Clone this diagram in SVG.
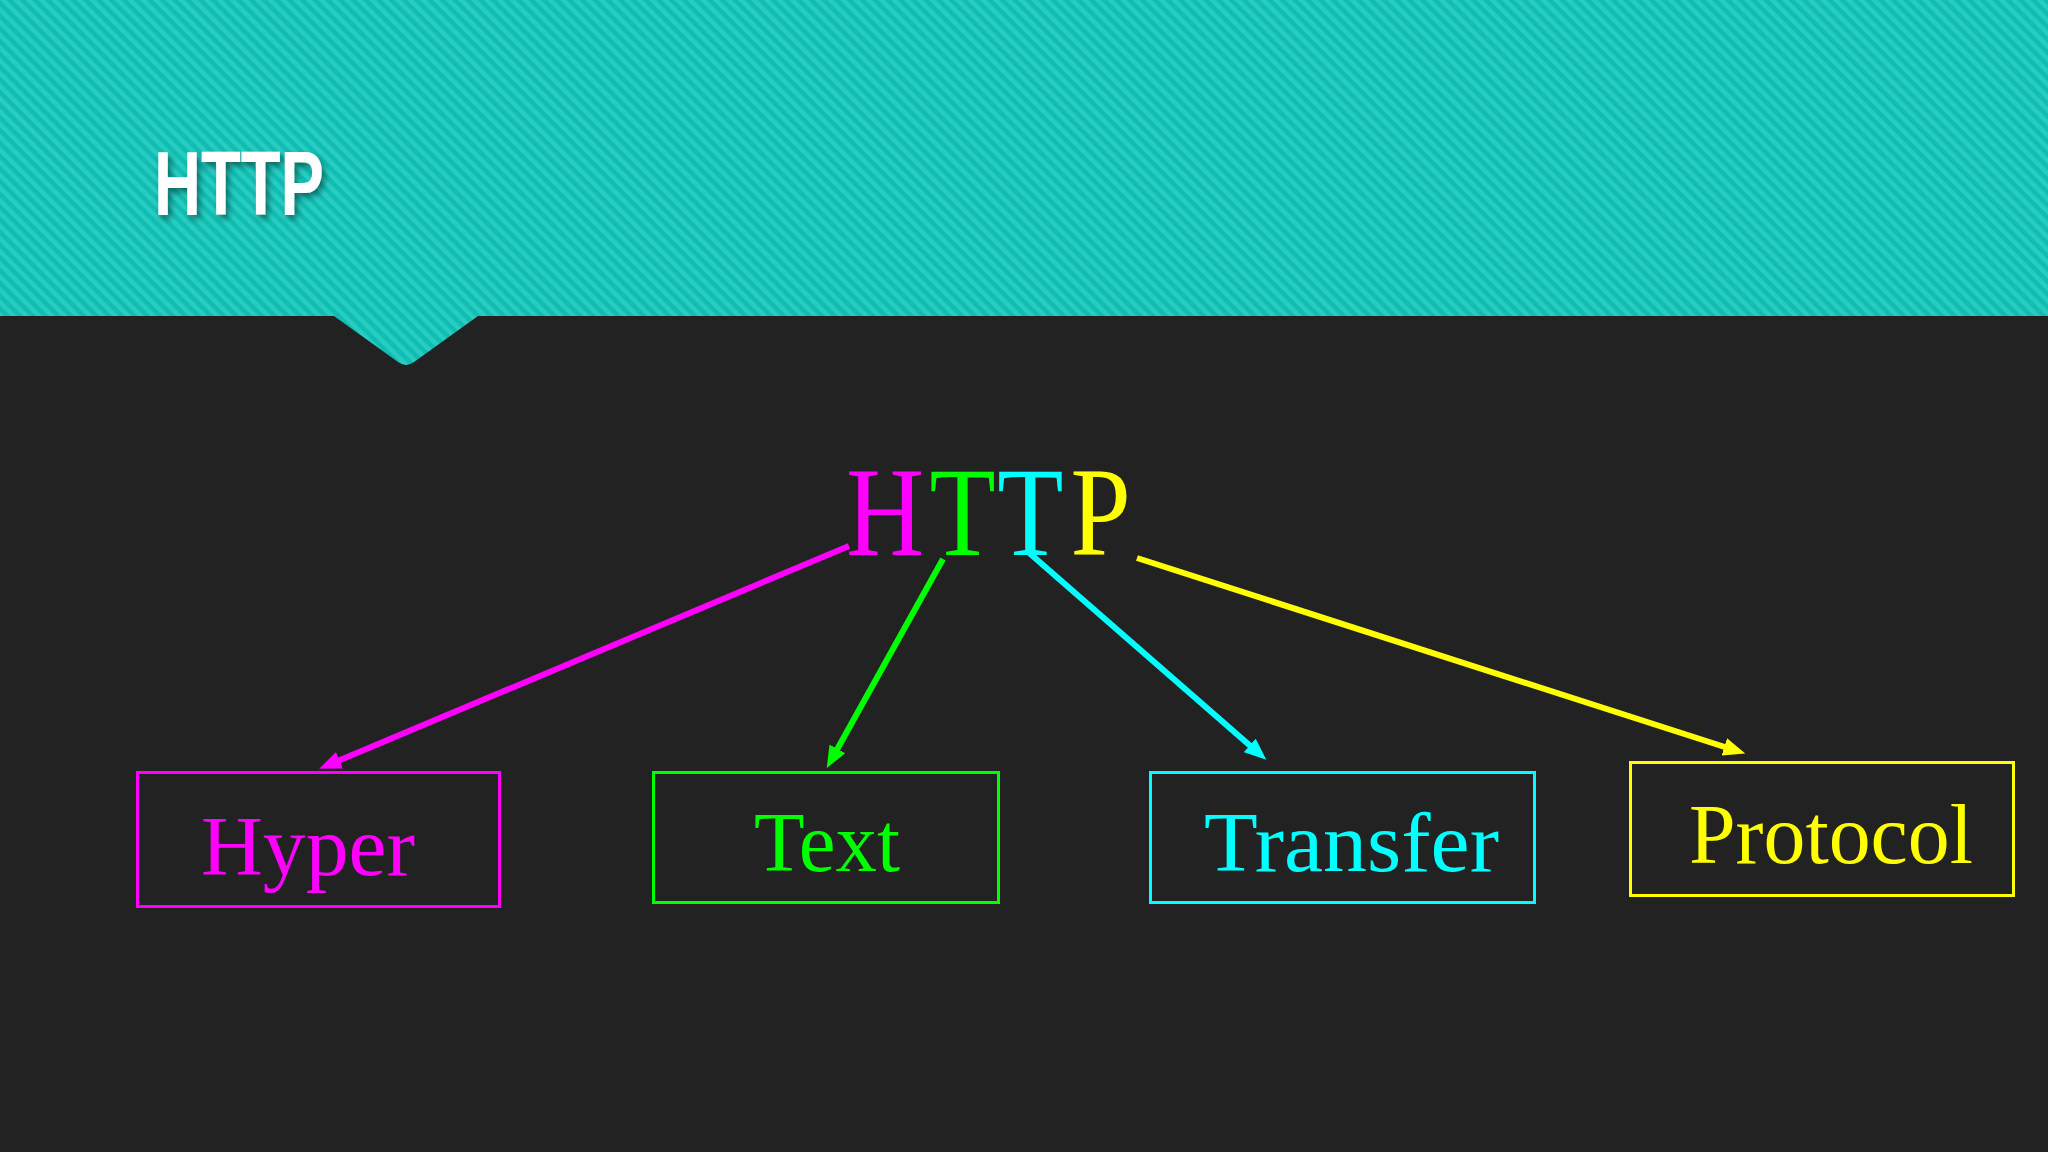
<svg xmlns="http://www.w3.org/2000/svg" width="2048" height="1152" viewBox="0 0 2048 1152">
<style>
.lbl{font-family:"Liberation Serif","Times New Roman",serif;font-size:85px}
.box{fill:none;stroke-width:3}
.con{fill:none;stroke-width:6}
</style>
<defs>
<pattern id="stripes" patternUnits="userSpaceOnUse" width="9" height="9" patternTransform="rotate(-45)">
<rect width="9" height="9" fill="#0fbdb2"/>
<rect width="4.5" height="9" fill="#29ccc1"/>
</pattern>
<filter id="sh" x="-20%" y="-20%" width="140%" height="150%">
<feDropShadow dx="3" dy="4" stdDeviation="3" flood-color="#000" flood-opacity="0.45"/>
</filter>
<marker id="am" viewBox="0 0 22 18" markerWidth="22" markerHeight="18" refX="7" refY="9" orient="auto" markerUnits="userSpaceOnUse"><path d="M0,0 L22,9 L0,18 Z" fill="#ff00ff"/></marker>
<marker id="ag" viewBox="0 0 22 18" markerWidth="22" markerHeight="18" refX="7" refY="9" orient="auto" markerUnits="userSpaceOnUse"><path d="M0,0 L22,9 L0,18 Z" fill="#00ff00"/></marker>
<marker id="ac" viewBox="0 0 22 18" markerWidth="22" markerHeight="18" refX="7" refY="9" orient="auto" markerUnits="userSpaceOnUse"><path d="M0,0 L22,9 L0,18 Z" fill="#00ffff"/></marker>
<marker id="ay" viewBox="0 0 22 18" markerWidth="22" markerHeight="18" refX="7" refY="9" orient="auto" markerUnits="userSpaceOnUse"><path d="M0,0 L22,9 L0,18 Z" fill="#ffff00"/></marker>
</defs>
<rect width="2048" height="1152" fill="#222222"/>
<g id="header">
<path d="M0,0 H2048 V316 H478 L414,362 Q406,368 398,362 L334,316 H0 Z" fill="url(#stripes)"/>
<text x="154" y="215" font-family="Liberation Sans, Arial, sans-serif" font-weight="bold" font-size="90" fill="#ffffff" textLength="170" lengthAdjust="spacingAndGlyphs" filter="url(#sh)">HTTP</text>
</g>
<g id="http">
<text transform="translate(846,555) scale(0.86,1)" font-family="Liberation Serif, Times New Roman, serif" font-size="126"><tspan x="0" fill="#ff00ff">H</tspan><tspan x="97" fill="#00ff00">T</tspan><tspan x="176" fill="#00ffff">T</tspan><tspan x="261" fill="#ffff00">P</tspan></text>
</g>
<g id="connectors">
<line class="con" x1="849" y1="546" x2="333" y2="763" stroke="#ff00ff" marker-end="url(#am)"/>
<line class="con" x1="943" y1="559" x2="834" y2="755" stroke="#00ff00" marker-end="url(#ag)"/>
<line class="con" x1="1027" y1="551" x2="1255" y2="750" stroke="#00ffff" marker-end="url(#ac)"/>
<line class="con" x1="1137" y1="558" x2="1731" y2="749" stroke="#ffff00" marker-end="url(#ay)"/>
</g>
<g id="hyper">
<rect class="box" x="137.5" y="772.5" width="362" height="134" stroke="#ff00ff"/>
<text class="lbl" x="201" y="875" fill="#ff00ff" textLength="214" lengthAdjust="spacingAndGlyphs">Hyper</text>
</g>
<g id="text">
<rect class="box" x="653.5" y="772.5" width="345" height="130" stroke="#00ff00"/>
<text class="lbl" x="754" y="871" fill="#00ff00" textLength="146" lengthAdjust="spacingAndGlyphs">Text</text>
</g>
<g id="transfer">
<rect class="box" x="1150.5" y="772.5" width="384" height="130" stroke="#00ffff"/>
<text class="lbl" x="1204" y="871" fill="#00ffff" textLength="295" lengthAdjust="spacingAndGlyphs">Transfer</text>
</g>
<g id="protocol">
<rect class="box" x="1630.5" y="762.5" width="383" height="133" stroke="#ffff00"/>
<text class="lbl" x="1689" y="863" fill="#ffff00" textLength="284" lengthAdjust="spacingAndGlyphs">Protocol</text>
</g>
</svg>
